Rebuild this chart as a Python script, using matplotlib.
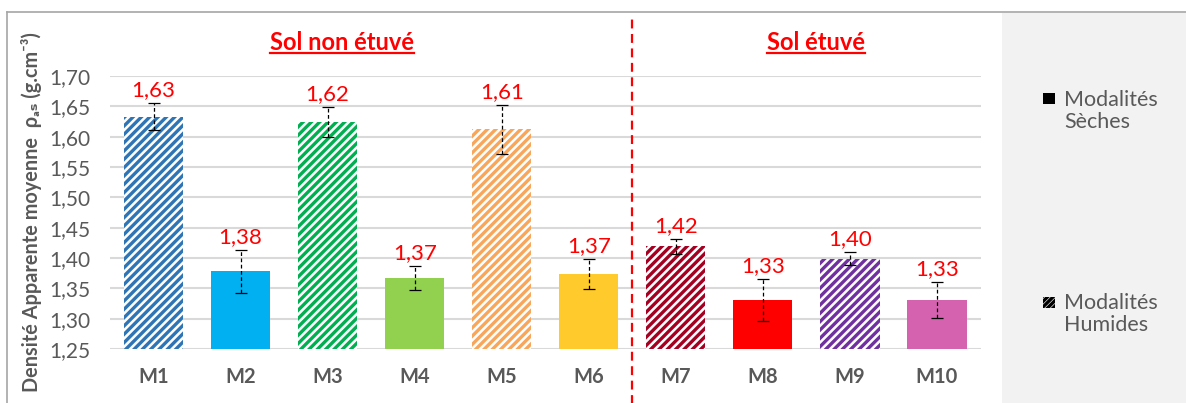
import matplotlib
matplotlib.use("Agg")
import matplotlib.pyplot as plt
from matplotlib.patches import Rectangle
from matplotlib.lines import Line2D
import numpy as np

plt.rcParams['font.family'] = ['Lato', 'DejaVu Sans']
plt.rcParams['hatch.linewidth'] = 2.4

# Données : densité apparente moyenne par modalité
modalites = ['M1', 'M2', 'M3', 'M4', 'M5', 'M6', 'M7', 'M8', 'M9', 'M10']
densite = [1.633, 1.378, 1.624, 1.367, 1.612, 1.374, 1.419, 1.331, 1.399, 1.331]
ecart = [0.022, 0.035, 0.025, 0.020, 0.040, 0.025, 0.012, 0.035, 0.011, 0.030]
humide = [True, False, True, False, True, False, True, False, True, False]
couleurs = ['#2E75B6', '#00B0F0', '#00B050', '#92D050', '#F8A65A',
            '#FFCA2C', '#A50021', '#FF0000', '#7030A0', '#D462AE']
yticks = [1.25, 1.30, 1.35, 1.40, 1.45, 1.50, 1.55, 1.60, 1.65, 1.70]

gris = '#595959'

fig = plt.figure(figsize=(11.86, 4.03), dpi=100)

# cadre et panneau de légende
fig.add_artist(Line2D([7 / 1186, 1], [1 - 12 / 403, 1 - 12 / 403],
                      color='#A6A6A6', lw=1.2))
fig.add_artist(Line2D([7 / 1186, 7 / 1186], [0, 1 - 12 / 403],
                      color='#A6A6A6', lw=1.2))
fig.add_artist(Rectangle((1002 / 1186, 0), 1 - 1002 / 1186, 1 - 13 / 403,
                         transform=fig.transFigure, facecolor='#F2F2F2',
                         edgecolor='none'))

ax = fig.add_axes([110 / 1186, 54 / 403, 870.5 / 1186, 273 / 403])
x = np.arange(len(modalites))

for i in range(len(modalites)):
    if humide[i]:
        ax.bar(x[i], densite[i] - 1.25, bottom=1.25, width=0.68,
               facecolor='white', edgecolor=couleurs[i], hatch='////',
               linewidth=0, zorder=2)
    else:
        ax.bar(x[i], densite[i] - 1.25, bottom=1.25, width=0.68,
               color=couleurs[i], linewidth=0, zorder=2)

eb = ax.errorbar(x, densite, yerr=ecart, fmt='none', ecolor='black',
                 elinewidth=0.9, capsize=4, capthick=0.9, zorder=3)
eb[2][0].set_linestyle((0, (3, 2)))

for i in range(len(modalites)):
    ax.annotate(f"{densite[i]:.2f}".replace('.', ','),
                (x[i], densite[i] + ecart[i]), xytext=(0, 2),
                textcoords='offset points', ha='center', va='bottom',
                color='red', fontsize=16, annotation_clip=False)

ax.set_xlim(-0.5, len(modalites) - 0.5)
ax.set_ylim(1.25, 1.70)
ax.set_yticks(yticks)
ax.set_yticklabels([f"{v:.2f}".replace('.', ',') for v in yticks])
ax.set_xticks(x)
ax.set_xticklabels(modalites, fontweight='bold')
ax.tick_params(axis='y', length=0, pad=14, labelsize=15, labelcolor=gris)
ax.tick_params(axis='x', length=0, pad=13, labelsize=14.5, labelcolor=gris)
for s in ax.spines.values():
    s.set_visible(False)
ax.yaxis.grid(True, color='#D9D9D9', lw=1.5, zorder=0)
ax.set_axisbelow(True)

ax.set_ylabel('Densité Apparente moyenne  ρₐₛ (g.cm⁻³)', fontsize=14.3,
              fontweight='bold', color=gris, labelpad=0)
ax.yaxis.set_label_coords(-0.078, 0.5)

# séparation sol non étuvé / sol étuvé
ax.axvline(5.5, ymin=-0.2, ymax=1.227, color='red', lw=1.6,
           ls=(0, (4, 2.5)), clip_on=False, zorder=4)

titres = [('Sol non étuvé', 2.17), ('Sol étuvé', 7.61)]
fig.canvas.draw()
rend = fig.canvas.get_renderer()
for texte, xpos in titres:
    t = ax.text(xpos, 1.124, texte, transform=ax.get_xaxis_transform(),
                ha='center', va='center', color='red', fontsize=17,
                fontweight='bold')
    bb = t.get_window_extent(renderer=rend)
    inv = fig.transFigure.inverted()
    (x0, y0), (x1, y1) = inv.transform([[bb.x0, bb.y0], [bb.x1, bb.y0]])
    fig.add_artist(Line2D([x0, x1], [y0 + 1 / 403, y0 + 1 / 403],
                          color='red', lw=1.6))

# légende
fig.add_artist(Rectangle((1043 / 1186, 1 - 104 / 403), 12 / 1186, 11 / 403,
                         transform=fig.transFigure, facecolor='black',
                         edgecolor='none'))
fig.text(1064 / 1186, 1 - 111 / 403, 'Modalités\nSèches', fontsize=15.5,
         color=gris, va='center', ha='left', linespacing=1.1)
fig.add_artist(Rectangle((1043 / 1186, 1 - 308 / 403), 12 / 1186, 11 / 403,
                         transform=fig.transFigure, facecolor='white',
                         edgecolor='black', hatch='//////', linewidth=0))
fig.text(1064 / 1186, 1 - 314 / 403, 'Modalités\nHumides', fontsize=15.5,
         color=gris, va='center', ha='left', linespacing=1.1)

fig.savefig('out.png', dpi=100)
